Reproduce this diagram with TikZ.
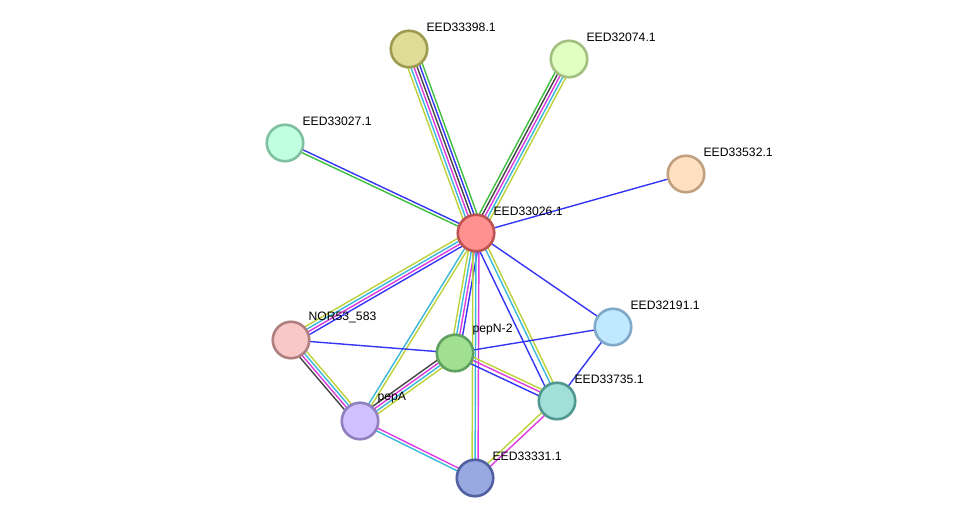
\documentclass[tikz,border=0pt]{standalone}
\usepackage{fontspec}
\setmainfont{Liberation Sans}
\usetikzlibrary{calc,backgrounds}
\definecolor{evgreen}{HTML}{3DBE3D}
\definecolor{evblue}{HTML}{3535F5}
\definecolor{evblack}{HTML}{454545}
\definecolor{evmagenta}{HTML}{DD3ADD}
\definecolor{evcyan}{HTML}{38B8DA}
\definecolor{evyellow}{HTML}{BCD238}

% one STRING link: offset/colour pairs, offset in pt to the left of a->b
\newcommand{\strlink}[3]{%
  \foreach \o/\c in {#3}
    \draw[link,\c] ($(#1)!\o pt!90:(#2)$) -- ($(#2)!\o pt!-90:(#1)$);}

\begin{document}
\begin{tikzpicture}[
  x=1pt,y=-1pt,
  prot/.style={circle,minimum size=36.5pt,inner sep=0pt,line width=2.6pt},
  lbl/.style={font=\fontsize{12.2}{14}\selectfont,inner sep=3.5pt},
  link/.style={line width=1.4pt}
]
\useasboundingbox (0,0) rectangle (976,524);

\node[prot,draw={rgb,255:red,190;green,82;blue,82},fill={rgb,255:red,255;green,145;blue,145},
      label={[lbl]above right:EED33026.1}] (c) at (476,233) {};
\node[prot,draw={rgb,255:red,158;green,154;blue,80},fill={rgb,255:red,222;green,220;blue,150},
      label={[lbl]above right:EED33398.1}] (p33398) at (409,49) {};
\node[prot,draw={rgb,255:red,164;green,192;blue,128},fill={rgb,255:red,225;green,255;blue,192},
      label={[lbl]above right:EED32074.1}] (p32074) at (569,59) {};
\node[prot,draw={rgb,255:red,128;green,192;blue,160},fill={rgb,255:red,192;green,255;blue,224},
      label={[lbl]above right:EED33027.1}] (p33027) at (285,143) {};
\node[prot,draw={rgb,255:red,192;green,160;blue,128},fill={rgb,255:red,255;green,224;blue,192},
      label={[lbl]above right:EED33532.1}] (p33532) at (686,174) {};
\node[prot,draw={rgb,255:red,128;green,168;blue,200},fill={rgb,255:red,192;green,232;blue,255},
      label={[lbl]above right:EED32191.1}] (p32191) at (613,327) {};
\node[prot,draw={rgb,255:red,176;green,128;blue,128},fill={rgb,255:red,248;green,200;blue,200},
      label={[lbl]above right:NOR53\_583}] (nor) at (291,340) {};
\node[prot,draw={rgb,255:red,96;green,160;blue,96},fill={rgb,255:red,160;green,224;blue,144},
      label={[lbl]above right:pepN-2}] (pepn) at (455,353) {};
\node[prot,draw={rgb,255:red,80;green,152;blue,144},fill={rgb,255:red,160;green,224;blue,216},
      label={[lbl]above right:EED33735.1}] (p33735) at (557,401) {};
\node[prot,draw={rgb,255:red,144;green,128;blue,192},fill={rgb,255:red,208;green,192;blue,255},
      label={[lbl]above right:pepA}] (pepa) at (360,421) {};
\node[prot,draw={rgb,255:red,80;green,96;blue,160},fill={rgb,255:red,152;green,168;blue,224},
      label={[lbl]above right:EED33331.1}] (p33331) at (475,478) {};

\begin{scope}[on background layer]
\strlink{c}{p33398}{7.5/evyellow,4.5/evcyan,1.5/evmagenta,-1.5/evblack,-4.5/evblue,-7.5/evgreen}
\strlink{c}{p32074}{6/evgreen,3/evblack,0/evmagenta,-3/evcyan,-6/evyellow}
\strlink{c}{p33027}{1.5/evgreen,-1.5/evblue}
\strlink{c}{p33532}{0/evblue}
\strlink{c}{p32191}{0/evblue}
\strlink{c}{nor}{4.5/evblue,1.5/evmagenta,-1.5/evcyan,-4.5/evyellow}
\strlink{c}{pepa}{1.5/evyellow,-1.5/evcyan}
\strlink{c}{pepn}{4.5/evblue,1.5/evmagenta,-1.5/evcyan,-4.5/evyellow}
\strlink{c}{p33331}{3/evmagenta,0/evcyan,-3/evyellow}
\strlink{c}{p33735}{4.5/evyellow,1.5/evcyan,-4.5/evblue}
\strlink{nor}{pepa}{4.5/evyellow,1.5/evcyan,-1.5/evmagenta,-4.5/evblack}
\strlink{pepa}{pepn}{4.5/evblack,1.5/evmagenta,-1.5/evcyan,-4.5/evyellow}
\strlink{nor}{pepn}{0/evblue}
\strlink{pepn}{p32191}{0/evblue}
\strlink{p32191}{p33735}{0/evblue}
\strlink{pepn}{p33735}{4/evyellow,1/evmagenta,-3/evblue}
\strlink{pepa}{p33331}{1.5/evmagenta,-1.5/evcyan}
\strlink{p33735}{p33331}{2/evmagenta,-2/evyellow}
\end{scope}
\end{tikzpicture}
\end{document}
